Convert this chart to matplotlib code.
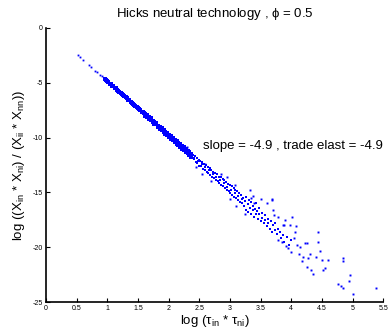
import matplotlib
matplotlib.use("Agg")
import matplotlib.pyplot as plt

plt.rcParams['font.family'] = ['Liberation Sans', 'DejaVu Sans']
plt.rcParams['mathtext.default'] = 'regular'

# sparse points at the upper-left end of the cloud
x_start = [0.52, 0.55, 0.60, 0.70, 0.74, 0.80, 0.84, 0.88, 0.91, 0.94]
y_start = [-2.50, -2.65, -2.88, -3.40, -3.55, -3.88, -4.05, -4.25, -4.40, -4.55]

# tight part of the band
x_tight = [0.96, 0.98, 1.00, 1.02, 1.04, 1.06, 1.08, 1.10, 1.12, 1.14, 1.16, 1.18,
           1.20, 1.22, 1.24, 1.26, 1.28, 1.30, 1.32, 1.34, 1.36, 1.38, 1.40, 1.42,
           1.44, 1.46, 1.48, 1.50, 1.52, 1.54, 1.56, 1.58, 1.60]
y_tight = [-4.65, -4.78, -4.85, -4.93, -5.07, -5.12, -5.27, -5.33, -5.45, -5.52, -5.66, -5.72,
           -5.84, -5.93, -6.05, -6.11, -6.25, -6.31, -6.43, -6.55, -6.60, -6.74, -6.80, -6.93,
           -7.02, -7.10, -7.24, -7.30, -7.43, -7.50, -7.63, -7.70, -7.80]

# band widening
x_mid = [1.62, 1.62, 1.65, 1.65, 1.68, 1.68, 1.71, 1.71, 1.74, 1.74, 1.77, 1.77,
         1.80, 1.80, 1.83, 1.83, 1.86, 1.86, 1.89, 1.89, 1.92, 1.92, 1.95, 1.95,
         1.98, 1.98, 2.01, 2.01, 2.04, 2.04, 2.07, 2.07, 2.10, 2.10, 2.13, 2.13,
         2.16, 2.16, 2.19, 2.19, 2.22, 2.22, 2.25, 2.25, 2.28, 2.28, 2.31, 2.31,
         2.34, 2.34, 2.37, 2.37]
y_mid = [-7.85, -8.02, -8.10, -7.95, -8.15, -8.32, -8.35, -8.20, -8.45, -8.62, -8.55, -8.75,
         -8.80, -8.65, -8.90, -9.05, -9.05, -9.20, -9.30, -9.12, -9.35, -9.50, -9.45, -9.65,
         -9.75, -9.60, -9.75, -9.95, -9.90, -10.10, -10.20, -10.05, -10.20, -10.40, -10.35, -10.55,
         -10.70, -10.45, -10.60, -10.85, -10.75, -11.00, -11.15, -10.90, -11.05, -11.30, -11.20, -11.45,
         -11.55, -11.35, -11.50, -11.75]

# wide band
x_wide = [2.40, 2.41, 2.43, 2.44, 2.46, 2.47, 2.49, 2.50, 2.52, 2.53, 2.55, 2.56,
          2.58, 2.59, 2.61, 2.62, 2.64, 2.65, 2.67, 2.68, 2.70, 2.71, 2.73, 2.74,
          2.76, 2.77, 2.79, 2.80, 2.82, 2.83, 2.85, 2.86, 2.88, 2.89, 2.91, 2.92,
          2.94, 2.95, 2.97, 2.98, 3.00, 3.01, 3.03, 3.04, 3.06, 3.07, 3.09, 3.10,
          3.12, 3.13, 3.15, 3.16, 3.18, 3.19,
          2.42, 2.48, 2.54, 2.60, 2.66, 2.72, 2.78, 2.84, 2.90, 2.96, 3.02, 3.08,
          3.14, 3.20]
y_wide = [-11.55, -11.95, -11.70, -12.20, -11.85, -12.30, -12.00, -12.55, -12.10, -12.60, -12.25, -12.85,
          -12.40, -12.95, -12.50, -13.10, -12.70, -13.25, -12.80, -13.40, -12.95, -13.55, -13.10, -13.70,
          -13.25, -13.85, -13.35, -14.00, -13.55, -14.15, -13.60, -14.30, -13.80, -14.45, -13.90, -14.60,
          -14.05, -14.75, -14.20, -14.90, -14.30, -15.05, -14.45, -15.20, -14.60, -15.40, -14.75, -15.55,
          -14.90, -15.70, -15.05, -15.85, -15.20, -16.00,
          -11.82, -12.12, -12.40, -12.70, -12.98, -13.30, -13.58, -13.88, -14.15, -14.48, -14.75, -15.05,
          -15.35, -15.62]

# lower cluster
x_low = [3.22, 3.23, 3.25, 3.26, 3.27, 3.29, 3.30, 3.31, 3.33, 3.34, 3.35, 3.37,
         3.38, 3.39, 3.41, 3.42, 3.43, 3.44, 3.46, 3.47, 3.48, 3.51, 3.52, 3.53,
         3.56, 3.57, 3.58, 3.61, 3.62, 3.63, 3.66, 3.67, 3.68, 3.71, 3.73, 3.74,
         3.77, 3.79, 3.82, 3.84, 3.87, 3.89, 3.93, 3.96, 3.99]
y_low = [-15.5, -16.2, -15.8, -16.6, -15.4, -16.1, -16.8, -15.7, -16.4, -17.0, -15.9, -16.6,
         -16.2, -17.2, -16.5, -16.0, -17.0, -16.7, -17.4, -16.4, -17.0, -17.6, -16.9, -17.3,
         -17.8, -17.1, -17.5, -18.1, -17.4, -17.8, -18.3, -17.6, -18.6, -18.0, -18.4, -17.8,
         -18.8, -18.3, -18.6, -19.2, -18.9, -19.5, -19.1, -19.8, -19.3]

# scattered outliers
x_out = [3.08, 3.33, 3.35, 3.40, 3.37, 3.50, 3.69, 3.61, 3.68, 3.71, 3.79, 4.01,
         3.87, 3.98, 3.88, 4.08, 4.43, 4.44, 4.47, 4.22, 4.26, 4.15, 4.30, 4.50,
         4.84, 4.84, 4.55, 4.52, 4.33, 4.35, 4.25, 4.96, 4.94, 4.77, 4.82, 4.85,
         5.00, 5.38, 4.05, 4.10, 4.00, 3.95, 4.12, 4.20, 4.18, 4.40, 3.92, 3.85,
         4.06, 3.78, 3.90, 3.72, 2.95, 2.85, 3.25, 3.10, 3.00, 2.70, 4.28, 4.60,
         2.60, 2.55, 2.30, 2.45]
y_out = [-14.3, -14.8, -15.5, -16.0, -15.3, -15.6, -15.6, -16.0, -15.7, -16.6, -17.2, -17.2,
         -18.0, -18.0, -18.0, -18.1, -18.6, -19.5, -20.3, -19.6, -19.6, -20.0, -20.6, -21.2,
         -21.0, -21.3, -21.9, -22.1, -22.1, -22.4, -21.8, -22.5, -23.1, -23.4, -23.5, -23.7,
         -24.3, -23.7, -19.2, -19.8, -20.4, -20.1, -20.6, -20.9, -21.3, -20.9, -19.9, -19.5,
         -18.6, -19.3, -17.5, -17.1, -13.6, -13.3, -17.0, -16.2, -15.6, -14.0, -21.0, -21.2,
         -12.4, -13.3, -10.9, -12.7]

x_ticks = [0, 0.5, 1, 1.5, 2, 2.5, 3, 3.5, 4, 4.5, 5, 5.5]
x_tick_labels = ['0', '0.5', '1', '1.5', '2', '2.5', '3', '3.5', '4', '4.5', '5', '5.5']
y_ticks = [-25, -20, -15, -10, -5, 0]
y_tick_labels = ['-25', '-20', '-15', '-10', '-5', '0']

fig = plt.figure(figsize=(3.89, 3.33), dpi=100)
ax = fig.add_axes([0.118, 0.093, 0.867, 0.823])

# dense parts get a fatter dot so the band reads solid, like the reference
for xs, ys, ms in [(x_start, y_start, 1.3), (x_tight, y_tight, 2.5), (x_mid, y_mid, 2.7),
                   (x_wide, y_wide, 2.0), (x_low, y_low, 1.7), (x_out, y_out, 1.4)]:
    ax.plot(xs, ys, 's', color='b', markersize=ms, markeredgewidth=0, linestyle='none')

ax.set_xlim(0, 5.5)
ax.set_ylim(-25, 0)
ax.set_xticks(x_ticks)
ax.set_xticklabels(x_tick_labels)
ax.set_yticks(y_ticks)
ax.set_yticklabels(y_tick_labels)
ax.tick_params(direction='in', labelsize=5, length=3, width=0.8, pad=2)
ax.spines['top'].set_visible(False)
ax.spines['right'].set_visible(False)
ax.spines['left'].set_linewidth(1.2)
ax.spines['bottom'].set_linewidth(1.2)

ax.set_title(r'Hicks neutral technology , $\phi$ = 0.5', fontsize=9.5, pad=8)
ax.set_xlabel(r'log ($\tau_{in}$ * $\tau_{ni}$)', fontsize=9.5, labelpad=1)
ax.set_ylabel(r'log ((X$_{in}$ * X$_{ni}$) / (X$_{ii}$ * X$_{nn}$))', fontsize=9.5, labelpad=4)
ax.text(2.56, -10.77, 'slope = -4.9 , trade elast = -4.9', fontsize=9.5, va='center', ha='left')

fig.savefig('out.png', dpi=100)
